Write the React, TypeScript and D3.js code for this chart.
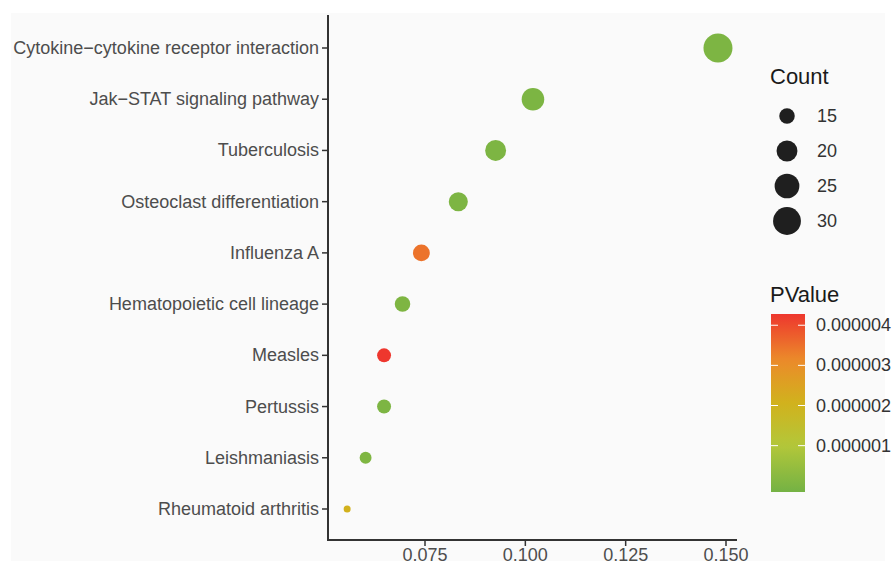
import * as d3 from 'd3';

const pathways = [
  'Cytokine−cytokine receptor interaction',
  'Jak−STAT signaling pathway',
  'Tuberculosis',
  'Osteoclast differentiation',
  'Influenza A',
  'Hematopoietic cell lineage',
  'Measles',
  'Pertussis',
  'Leishmaniasis',
  'Rheumatoid arthritis',
];
const geneRatio = [0.148, 0.1019, 0.0926, 0.0833, 0.0741, 0.0694, 0.0648, 0.0648, 0.0602, 0.0556];
const counts = [32, 22, 20, 18, 16, 15, 14, 14, 13, 12];
const pvalues = [1.2e-9, 5e-10, 3e-9, 1e-8, 3.45e-6, 2e-8, 4.28e-6, 1e-8, 5e-8, 2.1e-6];
const xTicks = [0.075, 0.1, 0.125, 0.15];
const countBreaks = [15, 20, 25, 30];
const pBreaks = [0.000004, 0.000003, 0.000002, 0.000001];
const pLimits = [-0.155e-6, 4.28e-6];

const font = '"Liberation Sans", Arial, sans-serif';

export default function App() {
  const W = 892;
  const H = 564;

  const x = d3.scaleLinear().domain([0.075, 0.15]).range([425, 726]);
  const y = d3.scalePoint().domain(pathways).range([48, 509]);

  const norm = d3.scaleLinear().domain([12, 32]).range([0, 1]);
  const radius = (c: number) => {
    const s = 1 + 5 * Math.sqrt(Math.max(0, norm(c)));
    return 2.2 * s + 1.3;
  };

  const color = d3
    .scaleLinear<string>()
    .domain([0, 0.26, 0.5, 0.74, 1].map((t) => pLimits[0] + t * (pLimits[1] - pLimits[0])))
    .range(['#74b244', '#b3c73a', '#d1b21d', '#eb8b2a', '#ee372e'])
    .interpolate(d3.interpolateRgb);

  const barTop = 314;
  const barBottom = 492;
  const barX = 771;
  const barW = 34;
  const pY = d3.scaleLinear().domain(pLimits).range([barBottom, barTop]);
  const gradStops = d3.range(0, 1.0001, 0.05);

  const axisColor = '#333333';
  const labelColor = '#4d4d4d';

  return (
    <svg
      width={W}
      height={H}
      style={{ position: 'absolute', left: 0, top: 0, fontFamily: font }}
    >
      <defs>
        <linearGradient id="pgrad" x1="0" y1="1" x2="0" y2="0">
          {gradStops.map((t) => (
            <stop
              key={t}
              offset={`${t * 100}%`}
              stopColor={color(pLimits[0] + t * (pLimits[1] - pLimits[0]))}
            />
          ))}
        </linearGradient>
      </defs>
      <rect x={0} y={0} width={W} height={H} fill="#ffffff" />
      <rect x={11} y={13} width={874} height={548} fill="#fafafa" />

      {/* axes */}
      <line x1={328} x2={328} y1={15} y2={541} stroke={axisColor} strokeWidth={2} />
      <line x1={327} x2={737} y1={540} y2={540} stroke={axisColor} strokeWidth={2} />

      {pathways.map((p) => (
        <g key={p}>
          <line x1={322} x2={328} y1={y(p)} y2={y(p)} stroke={axisColor} strokeWidth={1.5} />
          <text
            x={319}
            y={y(p)}
            textAnchor="end"
            dominantBaseline="central"
            fontSize={18}
            fill={labelColor}
          >
            {p}
          </text>
        </g>
      ))}

      {xTicks.map((t) => (
        <g key={t}>
          <line x1={x(t)} x2={x(t)} y1={540} y2={546} stroke={axisColor} strokeWidth={1.5} />
          <text x={x(t)} y={561} textAnchor="middle" fontSize={18} fill={labelColor}>
            {d3.format('.3f')(t)}
          </text>
        </g>
      ))}

      {/* points */}
      {pathways.map((p, i) => (
        <circle
          key={p}
          cx={x(geneRatio[i])}
          cy={y(p)}
          r={radius(counts[i])}
          fill={color(pvalues[i])}
        />
      ))}

      {/* Count legend */}
      <text x={770} y={84} fontSize={22} fill="#1a1a1a">
        Count
      </text>
      {countBreaks.map((c, i) => (
        <g key={c}>
          <circle cx={787} cy={116 + i * 35} r={radius(c)} fill="#1f1f1f" />
          <text x={817} y={116 + i * 35} dominantBaseline="central" fontSize={18} fill="#333333">
            {c}
          </text>
        </g>
      ))}

      {/* PValue legend */}
      <text x={770} y={302} fontSize={22} fill="#1a1a1a">
        PValue
      </text>
      <rect x={barX} y={barTop} width={barW} height={barBottom - barTop} fill="url(#pgrad)" />
      {pBreaks.map((b) => (
        <g key={b}>
          <line x1={barX} x2={barX + 7} y1={pY(b)} y2={pY(b)} stroke="#ffffff" strokeWidth={1} />
          <line
            x1={barX + barW - 7}
            x2={barX + barW}
            y1={pY(b)}
            y2={pY(b)}
            stroke="#ffffff"
            strokeWidth={1}
          />
          <text x={816} y={pY(b)} dominantBaseline="central" fontSize={18} fill="#333333">
            {b.toFixed(6)}
          </text>
        </g>
      ))}
    </svg>
  );
}
